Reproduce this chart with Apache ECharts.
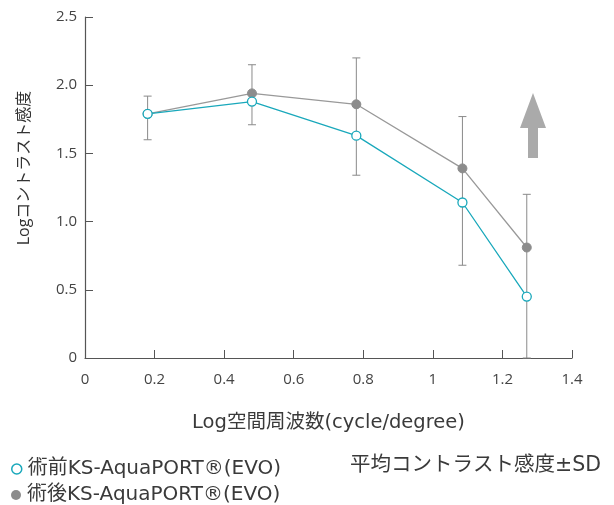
<!DOCTYPE html>
<html>
<head>
<meta charset="utf-8">
<script src="https://cdn.jsdelivr.net/npm/echarts@6/dist/echarts.min.js"></script>
<style>
  html, body { margin: 0; padding: 0; background: #fff; }
  #main { width: 614px; height: 505px; }
</style>
</head>
<body>
<div id="main"></div>
<script>
// spatial frequency (log) and mean contrast sensitivity (log)
const freqs = [0.18, 0.48, 0.78, 1.085, 1.27]
const preMean = [1.79, 1.88, 1.63, 1.14, 0.45]
const postMean = [1.79, 1.94, 1.86, 1.39, 0.81]
// error bar ends: upper from post series, lower from pre series
const errHigh = [1.92, 2.15, 2.20, 1.77, 1.20]
const errLow = [1.60, 1.71, 1.34, 0.68, 0.0]
const xTicks = [0, 0.2, 0.4, 0.6, 0.8, 1, 1.2, 1.4]
const yTicks = [0, 0.5, 1.0, 1.5, 2.0, 2.5]

const preName = '術前KS-AquaPORT®(EVO)'
const postName = '術後KS-AquaPORT®(EVO)'
const FONT = '"Open Sans", "Noto Sans CJK JP", sans-serif'
// wider latin face for the long captions
const WIDE = '"DejaVu Sans", "Noto Sans CJK JP", sans-serif'

const TEAL = '#19a8bb'
const GRAY = '#8c8c8c'

const zip = (xs, ys) => xs.map((x, i) => [x, ys[i]])

let chart = echarts.init(document.getElementById('main'), null, { renderer: 'canvas' })

// one legend per row, stacked under the chart
const legendRow = (name, top, icon, style) => ({
  left: 6,
  top: top,
  itemWidth: 10,
  itemHeight: 10,
  itemGap: 0,
  textStyle: { fontSize: 20, color: '#3a3a3a', fontFamily: WIDE, padding: [0, 0, 0, 1] },
  data: [{ name: name, icon: icon, itemStyle: style }]
})

chart.setOption({
  animation: false,
  textStyle: { fontFamily: FONT },
  grid: { left: 85, right: 42, top: 17, bottom: 147 },
  xAxis: {
    type: 'value',
    min: 0,
    max: 1.4,
    interval: 0.2,
    name: 'Log空間周波数(cycle/degree)',
    nameLocation: 'middle',
    nameGap: 55,
    nameTextStyle: { fontSize: 19.5, color: '#3a3a3a', fontFamily: WIDE },
    axisLine: { lineStyle: { color: '#555', width: 1.2 } },
    axisTick: { inside: true, length: 8, lineStyle: { color: '#555' } },
    splitLine: { show: false },
    axisLabel: {
      fontSize: 15, color: '#444', margin: 14,
      formatter: v => xTicks.includes(+v.toFixed(1)) ? String(+v.toFixed(1)) : ''
    }
  },
  yAxis: {
    type: 'value',
    min: 0,
    max: 2.5,
    interval: 0.5,
    axisLine: { show: true, lineStyle: { color: '#555', width: 1.2 } },
    axisTick: { show: true, inside: true, length: 8, lineStyle: { color: '#555' } },
    splitLine: { show: false },
    axisLabel: {
      fontSize: 15, color: '#444', margin: 8,
      formatter: v => v === 0 ? '0' : yTicks.find(t => Math.abs(t - v) < 1e-6).toFixed(1)
    }
  },
  legend: [
    legendRow(preName, 454, 'circle', { color: '#fff', borderColor: TEAL, borderWidth: 1.5 }),
    legendRow(postName, 480, 'circle', { color: GRAY, borderWidth: 0 })
  ],
  series: [
    {
      // error bars (SD)
      type: 'custom',
      silent: true,
      z: 1,
      data: freqs.map((x, i) => [x, errLow[i], errHigh[i]]),
      renderItem: (params, api) => {
        let lo = api.coord([api.value(0), api.value(1)])
        let hi = api.coord([api.value(0), api.value(2)])
        let cap = 4
        let style = { stroke: '#8a8a8a', lineWidth: 1 }
        return {
          type: 'group',
          children: [
            { type: 'line', shape: { x1: hi[0], y1: hi[1], x2: lo[0], y2: lo[1] }, style },
            { type: 'line', shape: { x1: hi[0] - cap, y1: hi[1], x2: hi[0] + cap, y2: hi[1] }, style },
            { type: 'line', shape: { x1: lo[0] - cap, y1: lo[1], x2: lo[0] + cap, y2: lo[1] }, style }
          ]
        }
      }
    },
    {
      name: postName,
      type: 'line',
      z: 2,
      data: zip(freqs, postMean),
      symbol: 'circle',
      symbolSize: 9,
      lineStyle: { color: '#999', width: 1.3 },
      itemStyle: { color: GRAY, borderColor: GRAY }
    },
    {
      name: preName,
      type: 'line',
      z: 3,
      data: zip(freqs, preMean),
      symbol: 'circle',
      symbolSize: 9,
      lineStyle: { color: TEAL, width: 1.3 },
      itemStyle: { color: '#fff', borderColor: TEAL, borderWidth: 1.3 }
    }
  ],
  graphic: [
    {
      type: 'text',
      x: 24,
      y: 168,
      rotation: Math.PI / 2,
      style: {
        text: 'Logコントラスト感度',
        fontSize: 16,
        fontFamily: FONT,
        fill: '#333',
        align: 'center',
        verticalAlign: 'middle'
      }
    },
    {
      type: 'text',
      x: 350,
      y: 466,
      style: {
        text: '平均コントラスト感度±SD',
        fontSize: 20.5,
        fontFamily: WIDE,
        fill: '#3a3a3a',
        verticalAlign: 'middle'
      }
    },
    {
      // upward arrow
      type: 'polygon',
      shape: { points: [[533, 93], [546, 128], [538, 128], [538, 158], [528, 158], [528, 128], [520, 128]] },
      style: { fill: '#aaaaaa' }
    }
  ]
})
</script>
</body>
</html>
